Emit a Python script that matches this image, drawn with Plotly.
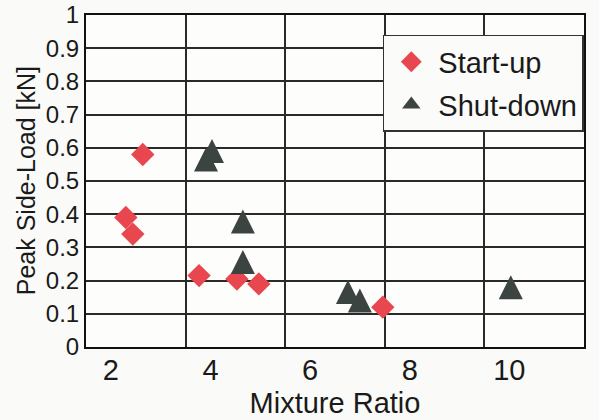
import plotly.graph_objects as go

# Data
startup_x = [2.64, 2.30, 2.44, 3.77, 4.53, 4.97, 7.46]
startup_y = [0.58, 0.39, 0.34, 0.215, 0.205, 0.19, 0.12]

shutdown_x = [4.03, 3.91, 4.65, 4.65, 6.76, 7.00, 10.03]
shutdown_y = [0.59, 0.565, 0.378, 0.256, 0.166, 0.14, 0.18]

x_ticks = [2, 4, 6, 8, 10]
x_grid = [3.5, 5.5, 7.5, 9.5]
y_ticks = [0, 0.1, 0.2, 0.3, 0.4, 0.5, 0.6, 0.7, 0.8, 0.9, 1]

FONT = "Liberation Sans"
RED = "#e8474f"
DARK = "#3c4442"
GRID = "#2a2a2a"

fig = go.Figure()
fig.add_trace(go.Scatter(
    x=startup_x, y=startup_y, mode="markers", name="Start-up",
    legendgroup="a",
    marker=dict(symbol="diamond", size=18, color=RED, line=dict(width=0)),
))
fig.add_trace(go.Scatter(
    x=shutdown_x, y=shutdown_y, mode="markers", name="Shut-down",
    legendgroup="b", showlegend=False,
    marker=dict(symbol="arrow-down", angle=180, standoff=12, size=24,
                color=DARK, line=dict(width=0)),
))
# legend entry for the triangles (no data)
fig.add_trace(go.Scatter(
    x=[None], y=[None], mode="markers", name="Shut-down",
    legendgroup="b",
    marker=dict(symbol="triangle-up", size=16, color=DARK, line=dict(width=0)),
))

fig.update_layout(
    width=599, height=420,
    margin=dict(l=86, r=15, t=15, b=73, autoexpand=False),
    paper_bgcolor="#fafaf8",
    plot_bgcolor="#fdfdfc",
    font=dict(family=FONT, color="#1a1a1a"),
    showlegend=True,
    legend=dict(
        x=0.596, y=0.94, xanchor="left", yanchor="top",
        bgcolor="#fbfbfa", bordercolor="#333333", borderwidth=1.5,
        font=dict(family=FONT, size=29, color="#1a1a1a"),
        itemwidth=44, tracegroupgap=2, traceorder="grouped",
    ),
    xaxis=dict(
        range=[1.5, 11.5],
        tickvals=x_ticks, ticktext=[str(v) for v in x_ticks],
        showgrid=False, zeroline=False,
        showline=True, linecolor="#111111", linewidth=2, mirror=True,
        ticks="", ticklabelstandoff=-4,
        tickfont=dict(family=FONT, size=29, color="#1a1a1a"),
        minor=dict(tickvals=x_grid, showgrid=True, gridcolor=GRID,
                   gridwidth=1.5, ticks=""),
        title=dict(text="Mixture Ratio", font=dict(family=FONT, size=29),
                   standoff=8),
    ),
    yaxis=dict(
        range=[0, 1],
        tickvals=y_ticks, ticktext=[("%g" % v) for v in y_ticks],
        showgrid=True, gridcolor=GRID, gridwidth=1.5, zeroline=False,
        showline=True, linecolor="#111111", linewidth=2, mirror=True,
        ticks="", ticklabelstandoff=0,
        tickfont=dict(family=FONT, size=24, color="#1a1a1a"),
    ),
    annotations=[dict(
        text="Peak Side-Load [kN]", textangle=-90,
        xref="paper", yref="paper", x=-0.12, y=0.5,
        xanchor="center", yanchor="middle", showarrow=False,
        font=dict(family=FONT, size=25, color="#1a1a1a"),
    )],
)

fig.write_html("out.html")
